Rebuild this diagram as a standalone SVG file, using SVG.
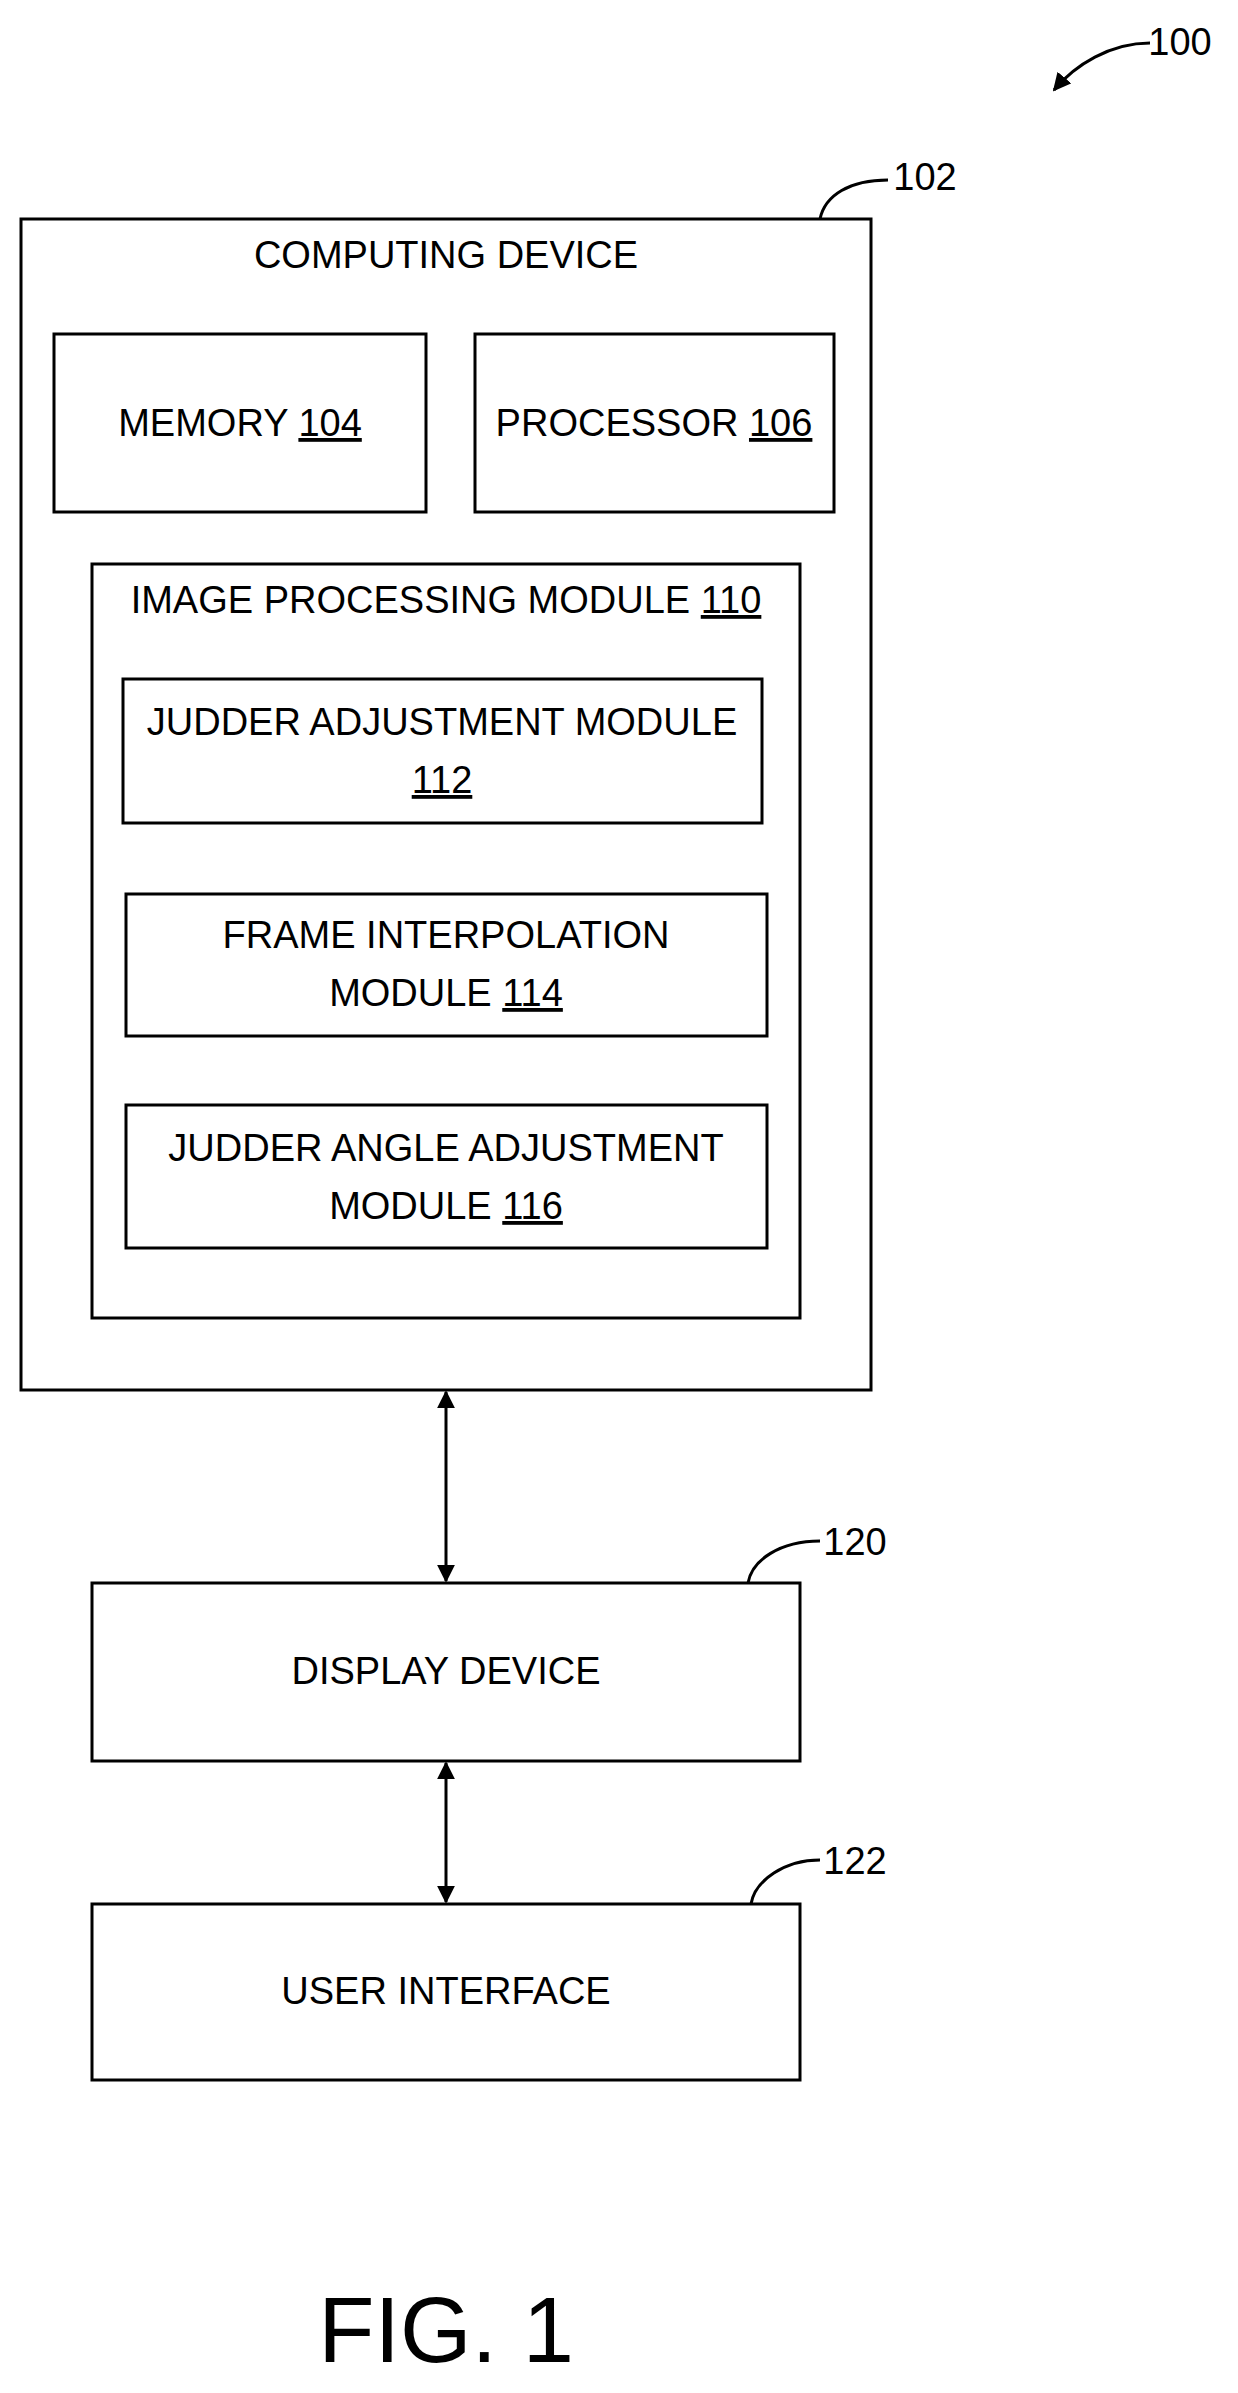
<svg xmlns="http://www.w3.org/2000/svg" width="1238" height="2393" viewBox="0 0 1238 2393">
<style>
rect{fill:#fff;stroke:#000;stroke-width:3}
text{font-family:"Liberation Sans",Arial,sans-serif;font-size:38px;text-anchor:middle;fill:#000}
.u{text-decoration:underline}
.c{fill:none;stroke:#000;stroke-width:3}
.h{fill:#000;stroke:none}
</style>
<defs>
<marker id="ah" viewBox="0 0 10 10" refX="9" refY="5" markerWidth="6" markerHeight="6" orient="auto-start-reverse"><path class="h" d="M0,0L10,5L0,10z"/></marker>
</defs>
<g id="computing"><rect x="21" y="219" width="850" height="1171"/><text x="446" y="268">COMPUTING DEVICE</text></g>
<g id="memory"><rect x="54" y="334" width="372" height="178"/><text x="240" y="436">MEMORY <tspan class="u">104</tspan></text></g>
<g id="processor"><rect x="475" y="334" width="359" height="178"/><text x="654" y="436">PROCESSOR <tspan class="u">106</tspan></text></g>
<g id="imgproc"><rect x="92" y="564" width="708" height="754"/><text x="446" y="613">IMAGE PROCESSING MODULE <tspan class="u">110</tspan></text></g>
<g id="judder"><rect x="123" y="679" width="639" height="144"/><text x="442" y="735">JUDDER ADJUSTMENT MODULE</text><text x="442" y="793" class="u">112</text></g>
<g id="frame"><rect x="126" y="894" width="641" height="142"/><text x="446" y="948">FRAME INTERPOLATION</text><text x="446" y="1006">MODULE <tspan class="u">114</tspan></text></g>
<g id="angle"><rect x="126" y="1105" width="641" height="143"/><text x="446" y="1161">JUDDER ANGLE ADJUSTMENT</text><text x="446" y="1219">MODULE <tspan class="u">116</tspan></text></g>
<g id="display"><rect x="92" y="1583" width="708" height="178"/><text x="446" y="1684">DISPLAY DEVICE</text></g>
<g id="ui"><rect x="92" y="1904" width="708" height="176"/><text x="446" y="2004">USER INTERFACE</text></g>
<g id="connectors">
<path class="c" d="M446,1392V1581" marker-start="url(#ah)" marker-end="url(#ah)"/>
<path class="c" d="M446,1763V1902" marker-start="url(#ah)" marker-end="url(#ah)"/>
<path class="c" d="M820,219C825,195 850,180 888,180"/>
<path class="c" d="M748,1583C752,1560 780,1541 820,1541"/>
<path class="c" d="M751,1904C755,1880 785,1860 820,1860"/>
<path class="c" d="M1150,43C1110,43 1075,65 1054,90" marker-end="url(#ah)"/>
</g>
<g id="labels">
<text x="925" y="190">102</text>
<text x="1180" y="55">100</text>
<text x="855" y="1555">120</text>
<text x="855" y="1874">122</text>
<text x="446" y="2362" style="font-size:92px">FIG. 1</text>
</g>
</svg>
